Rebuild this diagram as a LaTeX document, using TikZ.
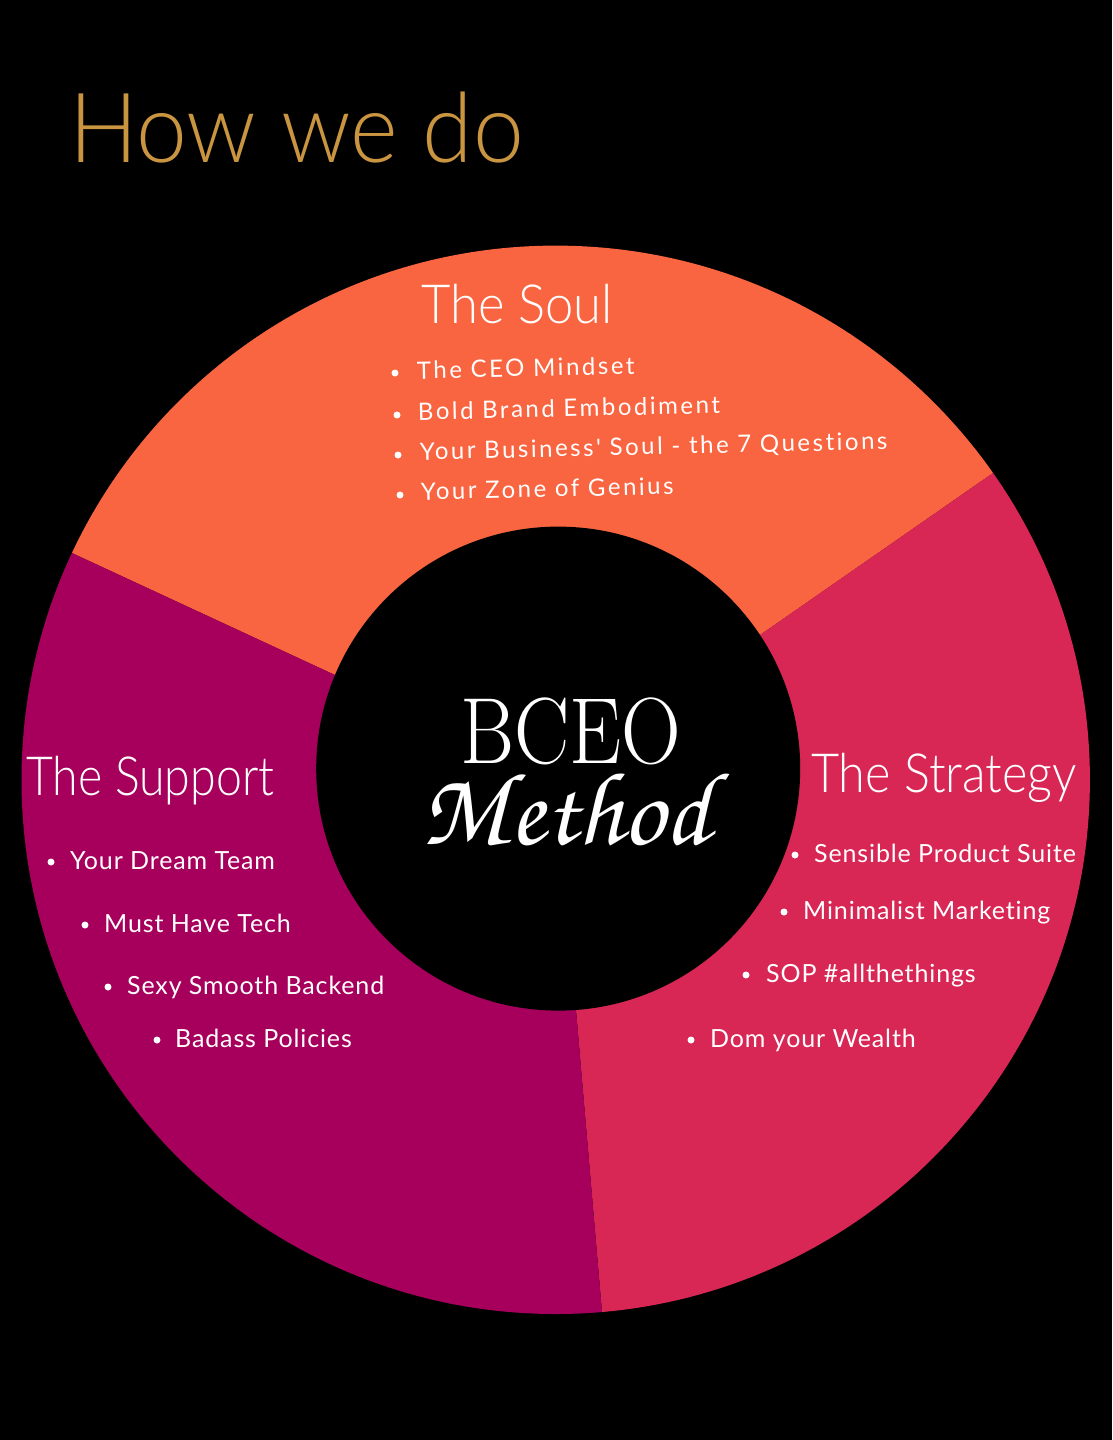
\documentclass[tikz,border=0pt]{standalone}
\usepackage{fontspec}
\setmainfont[LetterSpace=3.5,Ligatures=NoCommon]{Lato}
\IfFontExistsTF{Lato Light}{\newfontfamily\myTitleFont{Lato Light}}{\newfontfamily\myTitleFont{Lato}}
\IfFontExistsTF{Lato Light}{\newfontfamily\myHeadFont{Lato Light}}{\newfontfamily\myHeadFont{Lato}}
\IfFontExistsTF{lmroman17-regular.otf}{\newfontfamily\myBceoFont{lmroman17-regular.otf}}{\newfontfamily\myBceoFont{Latin Modern Roman}}
\IfFontExistsTF{texgyrechorus-mediumitalic.otf}{\newfontfamily\myMethodFont{texgyrechorus-mediumitalic.otf}}{\newfontfamily\myMethodFont[UprightFont=*,ItalicFont=*]{Latin Modern Roman}}
\newfontfamily\mySoulFont[LetterSpace=10.5,Ligatures=NoCommon]{Lato}
\definecolor{gold}{HTML}{C99541}
\definecolor{soulC}{HTML}{F96540}
\definecolor{stratC}{HTML}{D82655}
\definecolor{suppC}{HTML}{A6005C}
\tikzset{
  listitem/.style={anchor=base west, text=white, inner sep=0pt, font=\fontsize{25}{28}\selectfont},
  soulitem/.style={anchor=base west, text=white, inner sep=0pt, rotate=1.3, font=\mySoulFont\fontsize{24}{28}\selectfont},
  bulletdot/.style={circle, fill=white, inner sep=0pt, minimum size=7pt},
  heading/.style={anchor=base west, text=white, inner sep=0pt, font=\myHeadFont\fontsize{54}{60}\selectfont},
}
\begin{document}
\begin{tikzpicture}[x=1pt,y=-1pt]
\fill[black] (0,0) rectangle (1112,1440);
\useasboundingbox (0,0) rectangle (1112,1440);
% ring
\begin{scope}
\clip (555.7,779.8) circle (534.2);
\fill[soulC] (335,675) -- (-191,431) -- (-191,-100) -- (1459,-100) -- (1459,149) -- (760,635) -- (558,769) -- cycle;
\fill[stratC] (760,635) -- (1459,149) -- (1459,1614) -- (628,1614) -- (576,1010) -- (558,769) -- cycle;
\fill[suppC] (576,1010) -- (628,1614) -- (-191,1614) -- (-191,431) -- (335,675) -- (558,769) -- cycle;
\end{scope}
\fill[black] (558.2,768.6) circle (242);
% title
\node[anchor=base west, inner sep=0pt, text=gold, xscale=0.94, font=\myTitleFont\fontsize{97}{100}\selectfont] (title) at (69,162) {How we do};
% centre
\node[anchor=base, inner sep=0pt, text=white, xscale=0.88, font=\myBceoFont\fontsize{94}{100}\selectfont] (bceo) at (571,763) {BCEO};
\node[anchor=base, inner sep=0pt, text=white, font=\myMethodFont\fontsize{104}{110}\selectfont] (method) at (566,844) {Method};
% headings
\node[heading, xscale=0.94] (soulH) at (421,323) {The Soul};
\node[heading, xscale=0.86] (suppH) at (26,795) {The Support};
\node[heading, xscale=0.9] (stratH) at (811,792) {The Strategy};
% soul list
\node[bulletdot] (sb1) at (395,373) {};
\node[soulitem] (s1) at (417,379) {The CEO Mindset};
\node[bulletdot] (sb2) at (397,415) {};
\node[soulitem] (s2) at (418,420) {Bold Brand Embodiment};
\node[bulletdot] (sb3) at (398,455) {};
\node[soulitem] (s3) at (420,460) {Your Business' Soul - the 7 Questions};
\node[bulletdot] (sb4) at (400,495) {};
\node[soulitem] (s4) at (421,500) {Your Zone of Genius};
% support list
\node[bulletdot] (pb1) at (51,862) {};
\node[listitem] (p1) at (70,869) {Your Dream Team};
\node[bulletdot] (pb2) at (85,925) {};
\node[listitem] (p2) at (104,932) {Must Have Tech};
\node[bulletdot] (pb3) at (108,987) {};
\node[listitem] (p3) at (127,994) {Sexy Smooth Backend};
\node[bulletdot] (pb4) at (157,1040) {};
\node[listitem] (p4) at (175,1047) {Badass Policies};
% strategy list
\node[bulletdot] (tb1) at (795,855) {};
\node[listitem] (t1) at (814,862) {Sensible Product Suite};
\node[bulletdot] (tb2) at (784,912) {};
\node[listitem] (t2) at (803,919) {Minimalist Marketing};
\node[bulletdot] (tb3) at (746,975) {};
\node[listitem] (t3) at (766,982) {SOP \#allthethings};
\node[bulletdot] (tb4) at (691,1040) {};
\node[listitem] (t4) at (710,1047) {Dom your Wealth};
\end{tikzpicture}
\end{document}
